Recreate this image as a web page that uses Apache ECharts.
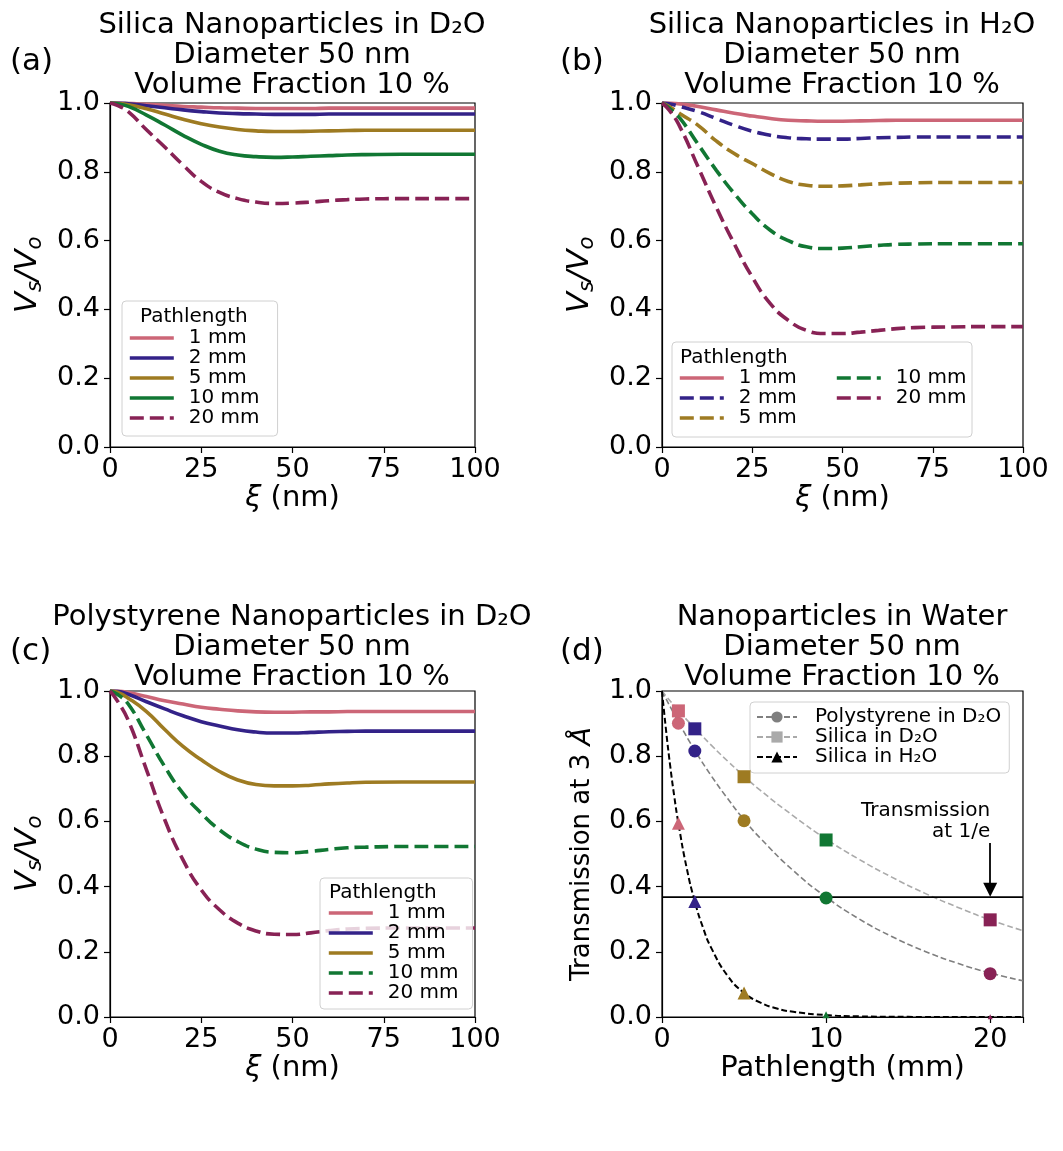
<!DOCTYPE html>
<html>
<head>
<meta charset="utf-8">
<script src="https://cdn.jsdelivr.net/npm/echarts@6/dist/echarts.min.js"></script>
<style>
  html, body { margin: 0; padding: 0; background: #fff; }
  #chart { width: 1063px; height: 1151px; }
</style>
</head>
<body>
<div id="chart"></div>
<script>
// xi grid (nm) shared by panels a-c
const xi = [0, 2, 5, 10, 15, 20, 25, 30, 35, 40, 45, 50, 55, 60, 65, 70, 80, 90, 100]
const pathLabels = ['1 mm', '2 mm', '5 mm', '10 mm', '20 mm']

// (a) silica in D2O
const silicaD2O1mm = [1, 1, 0.999, 0.996, 0.993, 0.990, 0.988, 0.986, 0.985, 0.984, 0.984, 0.984, 0.984, 0.985, 0.985, 0.985, 0.985, 0.985, 0.985]
const silicaD2O2mm = [1, 1, 0.998, 0.992, 0.986, 0.980, 0.975, 0.971, 0.969, 0.968, 0.967, 0.967, 0.967, 0.968, 0.968, 0.968, 0.968, 0.968, 0.968]
const silicaD2O5mm = [1, 0.999, 0.995, 0.983, 0.968, 0.953, 0.940, 0.930, 0.923, 0.919, 0.917, 0.917, 0.918, 0.919, 0.920, 0.921, 0.921, 0.921, 0.921]
const silicaD2O10mm = [1, 0.998, 0.990, 0.965, 0.936, 0.906, 0.880, 0.860, 0.849, 0.844, 0.842, 0.843, 0.845, 0.847, 0.849, 0.850, 0.851, 0.851, 0.851]
const silicaD2O20mm = [1, 0.993, 0.975, 0.922, 0.872, 0.820, 0.772, 0.740, 0.722, 0.712, 0.708, 0.709, 0.712, 0.716, 0.719, 0.721, 0.722, 0.722, 0.722]

// (b) silica in H2O
const silicaH2O1mm = [1, 1, 0.997, 0.990, 0.980, 0.970, 0.962, 0.955, 0.950, 0.948, 0.947, 0.947, 0.948, 0.949, 0.950, 0.950, 0.950, 0.950, 0.950]
const silicaH2O2mm = [1, 0.998, 0.990, 0.975, 0.955, 0.935, 0.918, 0.906, 0.899, 0.896, 0.895, 0.895, 0.897, 0.899, 0.900, 0.901, 0.901, 0.901, 0.901]
const silicaH2O5mm = [1, 0.990, 0.969, 0.935, 0.890, 0.853, 0.824, 0.795, 0.772, 0.761, 0.758, 0.759, 0.762, 0.765, 0.767, 0.768, 0.769, 0.769, 0.769]
const silicaH2O10mm = [1, 0.985, 0.955, 0.880, 0.805, 0.737, 0.678, 0.630, 0.600, 0.582, 0.577, 0.578, 0.582, 0.586, 0.589, 0.590, 0.591, 0.591, 0.591]
const silicaH2O20mm = [1, 0.979, 0.930, 0.814, 0.698, 0.591, 0.494, 0.417, 0.368, 0.339, 0.330, 0.330, 0.334, 0.339, 0.344, 0.347, 0.349, 0.350, 0.350]

// (c) polystyrene in D2O
const polyD2O1mm = [1, 1, 0.995, 0.983, 0.970, 0.960, 0.950, 0.944, 0.939, 0.936, 0.935, 0.935, 0.936, 0.936, 0.937, 0.937, 0.937, 0.937, 0.937]
const polyD2O2mm = [1, 0.999, 0.990, 0.967, 0.945, 0.924, 0.906, 0.893, 0.881, 0.874, 0.871, 0.871, 0.873, 0.875, 0.876, 0.877, 0.877, 0.877, 0.877]
const polyD2O5mm = [1, 0.996, 0.978, 0.937, 0.882, 0.830, 0.789, 0.753, 0.727, 0.713, 0.709, 0.709, 0.711, 0.715, 0.718, 0.720, 0.721, 0.721, 0.721]
const polyD2O10mm = [1, 0.990, 0.960, 0.865, 0.768, 0.686, 0.625, 0.574, 0.538, 0.515, 0.505, 0.504, 0.508, 0.514, 0.519, 0.521, 0.523, 0.523, 0.523]
const polyD2O20mm = [1, 0.970, 0.910, 0.758, 0.605, 0.482, 0.390, 0.329, 0.288, 0.264, 0.254, 0.253, 0.258, 0.265, 0.270, 0.272, 0.273, 0.273, 0.273]

// (d) transmission vs pathlength
const pathlengths = [1, 2, 5, 10, 20]
const polyTransmission = [0.901, 0.816, 0.602, 0.365, 0.133]
const silicaD2OTransmission = [0.939, 0.884, 0.737, 0.543, 0.298]
const silicaH2OTransmission = [0.594, 0.354, 0.074, 0.007, 0.0005]
const fitX = [0, 1, 2, 3, 4, 5, 6, 8, 10, 12, 14, 16, 18, 20, 22]
const polyFit = [1.0, 0.905, 0.818, 0.740, 0.670, 0.605, 0.548, 0.449, 0.368, 0.301, 0.247, 0.202, 0.165, 0.135, 0.111]
const silicaD2OFit = [1.0, 0.940, 0.886, 0.834, 0.785, 0.739, 0.695, 0.617, 0.546, 0.484, 0.429, 0.380, 0.337, 0.298, 0.265]
const h2oFitX = [0, 0.25, 0.5, 0.75, 1, 1.5, 2, 2.5, 3, 4, 5, 6, 7, 8, 10, 12, 15, 20, 22]
const silicaH2OFit = [1.0, 0.878, 0.770, 0.676, 0.594, 0.458, 0.354, 0.274, 0.212, 0.126, 0.074, 0.044, 0.026, 0.016, 0.006, 0.002, 0.0004, 0, 0]
const oneOverE = 0.368

const pathColors = ['#cc6677', '#332288', '#9e7b22', '#117733', '#882255']
const FONT = 'DejaVu Sans'

const chart = echarts.init(document.getElementById('chart'), null, { renderer: 'canvas' })

const grids = [
  { left: 110, top: 103, width: 365, height: 344 },
  { left: 662, top: 103, width: 361, height: 344 },
  { left: 110, top: 691, width: 365, height: 326 },
  { left: 662, top: 691, width: 361, height: 326 }
].map(g => ({ ...g, show: true, borderColor: '#000', borderWidth: 1.2, backgroundColor: 'transparent' }))

const axisCommon = {
  type: 'value',
  axisLine: { show: true, onZero: false, lineStyle: { color: '#000', width: 1.2 } },
  axisTick: { show: true, inside: false, length: 6, lineStyle: { color: '#000', width: 1.2 } },
  splitLine: { show: false },
  nameLocation: 'middle'
}

const xiName = {
  name: '{i|ξ}{n| (nm)}',
  nameGap: 37,
  nameTextStyle: {
    rich: {
      i: { fontFamily: FONT, fontSize: 29, fontStyle: 'italic', color: '#000' },
      n: { fontFamily: FONT, fontSize: 29, color: '#000' }
    }
  }
}
const vName = {
  name: '{i|V}{s|s}{i|/V}{s|o}',
  nameGap: 64,
  nameTextStyle: {
    rich: {
      i: { fontFamily: FONT, fontSize: 31, fontStyle: 'italic', color: '#000', lineHeight: 36 },
      s: { fontFamily: FONT, fontSize: 21, fontStyle: 'italic', color: '#000', verticalAlign: 'bottom', lineHeight: 22 }
    }
  }
}

function xAxisFor(gridIndex, max, interval, nameOpt) {
  return {
    ...axisCommon, ...nameOpt, gridIndex, min: 0, max, interval,
    axisLabel: {
      fontFamily: FONT, fontSize: 27, color: '#000', margin: 9,
      formatter: v => (v % interval === 0 ? String(v) : '')
    }
  }
}
function yAxisFor(gridIndex, nameOpt) {
  return {
    ...axisCommon, ...nameOpt, gridIndex, min: 0, max: 1, interval: 0.2,
    axisLabel: { fontFamily: FONT, fontSize: 27, color: '#000', margin: 10, formatter: v => v.toFixed(1) }
  }
}

function curve(panel, gridIndex, k, values, dashed) {
  return {
    name: panel + '|' + pathLabels[k],
    type: 'line',
    xAxisIndex: gridIndex,
    yAxisIndex: gridIndex,
    data: xi.map((x, i) => [x, values[i]]),
    smooth: 0.5,
    symbol: 'none',
    lineStyle: { color: pathColors[k], width: 3.6, type: dashed ? [14, 6] : 'solid' },
    itemStyle: { color: pathColors[k] },
    z: 2
  }
}

const legendText = { fontFamily: FONT, fontSize: 20, lineHeight: 20, color: '#000', padding: [0, 0, 0, 10] }
const fmt = name => name.split('|')[1]
// line-only legend keys for panels a-c
const lineKey = { itemStyle: { opacity: 0 }, lineStyle: { width: 3.6 } }

const series = [
  curve('a', 0, 0, silicaD2O1mm, false),
  curve('a', 0, 1, silicaD2O2mm, false),
  curve('a', 0, 2, silicaD2O5mm, false),
  curve('a', 0, 3, silicaD2O10mm, false),
  curve('a', 0, 4, silicaD2O20mm, true),
  curve('b', 1, 0, silicaH2O1mm, false),
  curve('b', 1, 1, silicaH2O2mm, true),
  curve('b', 1, 2, silicaH2O5mm, true),
  curve('b', 1, 3, silicaH2O10mm, true),
  curve('b', 1, 4, silicaH2O20mm, true),
  curve('c', 2, 0, polyD2O1mm, false),
  curve('c', 2, 1, polyD2O2mm, false),
  curve('c', 2, 2, polyD2O5mm, false),
  curve('c', 2, 3, polyD2O10mm, true),
  curve('c', 2, 4, polyD2O20mm, true)
]

// panel d: fitted decays (legend entries) + coloured measured points
const fitDefs = [
  { name: 'd|Polystyrene in D₂O', xs: fitX, ys: polyFit, color: '#7f7f7f', symbol: 'circle', width: 1.6 },
  { name: 'd|Silica in D₂O', xs: fitX, ys: silicaD2OFit, color: '#aaaaaa', symbol: 'rect', width: 1.6 },
  { name: 'd|Silica in H₂O', xs: h2oFitX, ys: silicaH2OFit, color: '#000000', symbol: 'triangle', width: 2 }
]
fitDefs.forEach(f => {
  series.push({
    name: f.name,
    type: 'line',
    xAxisIndex: 3,
    yAxisIndex: 3,
    data: f.xs.map((x, i) => [x, f.ys[i]]),
    smooth: 0.5,
    symbol: f.symbol,
    showSymbol: false,
    lineStyle: { color: f.color, width: f.width, type: [6, 3] },
    itemStyle: { color: f.color },
    z: 2
  })
})

const pointDefs = [
  { ys: polyTransmission, symbol: 'circle', sizes: [13, 13, 13, 13, 13] },
  { ys: silicaD2OTransmission, symbol: 'rect', sizes: [13, 13, 13, 13, 13] },
  { ys: silicaH2OTransmission, symbol: 'triangle', sizes: [13, 13, 13, 7, 5] }
]
pointDefs.forEach(p => {
  series.push({
    type: 'scatter',
    xAxisIndex: 3,
    yAxisIndex: 3,
    symbol: p.symbol,
    data: pathlengths.map((x, i) => ({
      value: [x, p.ys[i]],
      symbolSize: p.sizes[i],
      itemStyle: { color: pathColors[i], opacity: 1 }
    })),
    itemStyle: { opacity: 1 },
    z: 5
  })
})

// 1/e reference line with arrow annotation
series.push({
  type: 'line',
  xAxisIndex: 3,
  yAxisIndex: 3,
  data: [[0, oneOverE], [22, oneOverE]],
  symbol: 'none',
  lineStyle: { color: '#000', width: 1.8 },
  z: 3,
  markLine: {
    silent: true,
    symbol: ['none', 'triangle'],
    symbolSize: 14,
    lineStyle: { color: '#000', width: 1.8, type: 'solid' },
    label: { show: false },
    data: [[{ coord: [20, 0.534] }, { coord: [20, 0.39] }]]
  },
  markPoint: {
    symbol: 'circle',
    symbolSize: 0,
    label: {
      show: true,
      position: 'inside',
      align: 'right',
      verticalAlign: 'middle',
      fontFamily: FONT,
      fontSize: 20,
      lineHeight: 21,
      color: '#000',
      formatter: 'Transmission\nat 1/e'
    },
    data: [{ coord: [20, 0.6] }]
  }
})

const option = {
  animation: false,
  backgroundColor: '#fff',
  textStyle: { fontFamily: FONT },
  grid: grids,
  xAxis: [
    xAxisFor(0, 100, 25, xiName),
    xAxisFor(1, 100, 25, xiName),
    xAxisFor(2, 100, 25, xiName),
    xAxisFor(3, 22, 10, {
      name: 'Pathlength (mm)', nameGap: 37,
      nameTextStyle: { fontFamily: FONT, fontSize: 29, color: '#000' }
    })
  ],
  yAxis: [
    yAxisFor(0, vName),
    yAxisFor(1, vName),
    yAxisFor(2, vName),
    yAxisFor(3, {
      name: '{n|Transmission at 3 }{i|Å}',
      nameGap: 66,
      nameTextStyle: {
        rich: {
          n: { fontFamily: FONT, fontSize: 26, color: '#000' },
          i: { fontFamily: FONT, fontSize: 27, fontStyle: 'italic', color: '#000' }
        }
      }
    })
  ],
  legend: [
    {
      data: pathLabels.map(l => 'a|' + l), formatter: fmt, selectedMode: false, ...lineKey,
      orient: 'vertical', left: 122, top: 301, padding: [27, 18, 8, 6],
      itemWidth: 44, itemHeight: 14, itemGap: 0, textStyle: legendText,
      backgroundColor: 'rgba(255,255,255,0.8)', borderColor: '#d0d0d0', borderWidth: 1, borderRadius: 4
    },
    {
      data: pathLabels.slice(0, 3).map(l => 'b|' + l), formatter: fmt, selectedMode: false, ...lineKey,
      orient: 'vertical', left: 672, top: 342, padding: [26, 6, 6, 6],
      itemWidth: 44, itemHeight: 14, itemGap: 0, textStyle: legendText
    },
    {
      data: pathLabels.slice(3).map(l => 'b|' + l), formatter: fmt, selectedMode: false, ...lineKey,
      orient: 'vertical', left: 829, top: 342, padding: [26, 6, 6, 6],
      itemWidth: 44, itemHeight: 14, itemGap: 0, textStyle: legendText
    },
    {
      data: pathLabels.map(l => 'c|' + l), formatter: fmt, selectedMode: false, ...lineKey,
      orient: 'vertical', left: 320, top: 878, padding: [25, 14, 6, 7],
      itemWidth: 44, itemHeight: 14, itemGap: 0, textStyle: legendText,
      backgroundColor: 'rgba(255,255,255,0.8)', borderColor: '#d0d0d0', borderWidth: 1, borderRadius: 4
    },
    {
      data: fitDefs.map(f => f.name), formatter: fmt, selectedMode: false,
      orient: 'vertical', left: 750, top: 702, padding: [5, 8, 6, 6],
      itemWidth: 40, itemHeight: 14, itemGap: 0,
      textStyle: { ...legendText, padding: [0, 0, 0, 13] },
      backgroundColor: 'rgba(255,255,255,0.8)', borderColor: '#d0d0d0', borderWidth: 1, borderRadius: 4
    }
  ],
  graphic: [
    // legend b frame
    { type: 'rect', z: 1, shape: { x: 672, y: 342, width: 300, height: 95, r: 4 }, style: { fill: 'rgba(255,255,255,0.8)', stroke: '#d0d0d0', lineWidth: 1 } },
    ...[
      ['Silica Nanoparticles in D₂O\nDiameter 50 nm\nVolume Fraction 10 %', 292, 55],
      ['Silica Nanoparticles in H₂O\nDiameter 50 nm\nVolume Fraction 10 %', 842, 55],
      ['Polystyrene Nanoparticles in D₂O\nDiameter 50 nm\nVolume Fraction 10 %', 292, 647],
      ['Nanoparticles in Water\nDiameter 50 nm\nVolume Fraction 10 %', 842, 647]
    ].map(([text, x, y]) => ({
      type: 'text', x, y, z: 100,
      style: { text, fontFamily: FONT, fontSize: 29, lineHeight: 30, fill: '#000', align: 'center', verticalAlign: 'middle' }
    })),
    ...[['(a)', 10, 62], ['(b)', 560, 62], ['(c)', 10, 652], ['(d)', 560, 652]].map(([text, x, y]) => ({
      type: 'text', x, y, z: 100,
      style: { text, fontFamily: FONT, fontSize: 31, fill: '#000', align: 'left', verticalAlign: 'middle' }
    })),
    ...[['Pathlength', 140, 317], ['Pathlength', 680, 358], ['Pathlength', 329, 893]].map(([text, x, y]) => ({
      type: 'text', x, y, z: 100,
      style: { text, fontFamily: FONT, fontSize: 20, fill: '#000', align: 'left', verticalAlign: 'middle' }
    }))
  ],
  series
}

chart.setOption(option)
</script>
</body>
</html>
